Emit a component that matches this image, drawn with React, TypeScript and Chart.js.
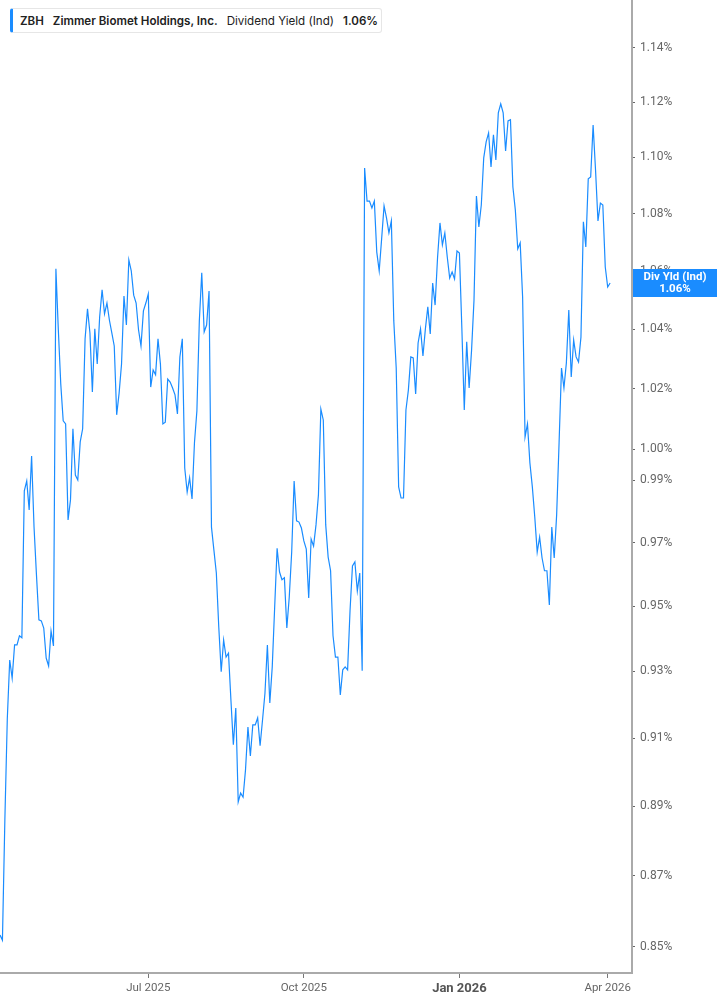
import React, { useEffect, useRef } from 'react';
import { Chart, registerables } from 'chart.js';

Chart.register(...registerables);

// Dividend yield (%) per trading day, Apr 2 2025 -> Apr 2 2026
const yieldAprJun = [
  0.8533, 0.8519, 0.886, 0.9157, 0.9335, 0.928, 0.9381, 0.9381, 0.9409, 0.9403,
  0.9865, 0.9897, 0.9804, 0.9978, 0.9749, 0.9598, 0.9458, 0.9455, 0.9433, 0.9341,
  0.9317, 0.9424, 0.9378, 1.0607, 1.0397, 1.0215, 1.0093, 1.0083, 0.9772, 0.9836,
  1.0067, 0.9916, 0.99, 1.0024, 1.0067, 1.0367, 1.0469, 1.0387, 1.0189, 1.0401,
  1.0282, 1.0442, 1.0534, 1.0452, 1.0489, 1.0431, 1.0387, 1.0343, 1.0113, 1.0185,
  1.0282, 1.0513, 1.0414, 1.0638, 1.06, 1.0516, 1.0489, 1.0397, 1.0343, 1.0462,
  1.0489,
];
const yieldJulSep = [
  1.052, 1.0205, 1.0262, 1.0246, 1.0367, 1.0282, 1.0083, 1.0089, 1.0232, 1.0222,
  1.0202, 1.0179, 1.0116, 1.0306, 1.0367, 0.9939, 0.9861, 0.9907, 0.9839, 1.0021,
  1.0126, 1.0428, 1.0593, 1.0391, 1.0414, 1.053, 0.9749, 0.9676, 0.9604, 0.9436,
  0.9299, 0.9396, 0.9344, 0.9356, 0.9214, 0.908, 0.919, 0.8912, 0.8938, 0.8926,
  0.9006, 0.9133, 0.9047, 0.9139, 0.9139, 0.916, 0.9077, 0.9154, 0.9234, 0.9381,
  0.9205, 0.9314, 0.9498, 0.9682, 0.9607, 0.9583, 0.9589, 0.9433, 0.9529, 0.967,
  0.9897, 0.9769, 0.9765, 0.9746,
];
const yieldOctDec = [
  0.9705, 0.9679, 0.9526, 0.9711, 0.9689, 0.9756, 0.9852, 1.0132, 1.0096, 0.9756,
  0.9654, 0.9611, 0.9409, 0.9344, 0.9344, 0.9229, 0.9305, 0.9314, 0.9305, 0.9486,
  0.9626, 0.9639, 0.9548, 0.9604, 0.9302, 1.0962, 1.0844, 1.0844, 1.082, 1.0844,
  1.0665, 1.06, 1.0711, 1.0827, 1.0785, 1.0732, 1.0774, 1.0428, 1.0269, 0.9878,
  0.9842, 0.9842, 1.0129, 1.0195, 1.0306, 1.0303, 1.0182, 1.0353, 1.0401, 1.0309,
  1.0401, 1.0476, 1.0384, 1.0558, 1.0482, 1.0645, 1.0767, 1.069, 1.0732, 1.0648,
  1.0575, 1.0596, 1.0572, 1.0669,
];
const yieldJanApr = [
  1.0662, 1.0404, 1.0129, 1.0357, 1.0202, 1.0329, 1.0499, 1.0862, 1.0753, 1.083,
  1.0998, 1.1056, 1.1088, 1.0966, 1.1081, 1.0991, 1.1161, 1.1194, 1.1161, 1.1023,
  1.1132, 1.1136, 1.0894, 1.0813, 1.0676, 1.0697, 1.051, 1.004, 1.0083, 0.9955,
  0.9878, 0.9781, 0.967, 0.9717, 0.9651, 0.9611, 0.9611, 0.9504, 0.9749, 0.9651,
  0.9788, 1.0021, 1.0269, 1.0202, 1.0286, 1.0465, 1.0239, 1.0363, 1.0306, 1.0289,
  1.0373, 1.0771, 1.0683, 1.0923, 1.093, 1.1117, 1.0955, 1.0774, 1.0837, 1.083,
  1.0613, 1.0544, 1.0558,
];

const yieldValues = [...yieldAprJun, ...yieldJulSep, ...yieldOctDec, ...yieldJanApr];

const yTickValues = [1.14, 1.12, 1.1, 1.08, 1.06, 1.04, 1.02, 1.0, 0.99, 0.97, 0.95, 0.93, 0.91, 0.89, 0.87, 0.85];

// market holidays, skipped in the date axis
const holidays = [
  '2025-04-18', '2025-05-26', '2025-06-19', '2025-07-04', '2025-09-01', '2025-11-27',
  '2025-12-25', '2026-01-01', '2026-01-19', '2026-02-16', '2026-04-03',
];
const monthNames = ['Jan', 'Feb', 'Mar', 'Apr', 'May', 'Jun', 'Jul', 'Aug', 'Sep', 'Oct', 'Nov', 'Dec'];
const quarterMonths = [0, 3, 6, 9];

const BLUE = '#1a8cff';
const EMPTY_DAYS = 9; // room on the right of the last point

function tradingDays(start: string, count: number): string[] {
  const out: string[] = [];
  const d = new Date(start + 'T00:00:00Z');
  while (out.length < count) {
    const s = d.toISOString().slice(0, 10);
    const wd = d.getUTCDay();
    if (wd !== 0 && wd !== 6 && !holidays.includes(s)) out.push(s);
    d.setUTCDate(d.getUTCDate() + 1);
  }
  return out;
}

const dates = tradingDays('2025-04-02', yieldValues.length + EMPTY_DAYS);
const lastValue = yieldValues[yieldValues.length - 1];

const monthLabel = (i: number) => {
  const [y, m] = dates[i].split('-');
  return monthNames[Number(m) - 1] + ' ' + y;
};

const lastValueTag = {
  id: 'lastValueTag',
  afterDraw(chart: any) {
    const { ctx, chartArea, scales } = chart;
    const y = Math.round(scales.y.getPixelForValue(lastValue));
    const x0 = chartArea.right + 1;
    const cx = (x0 + chart.width) / 2;
    ctx.save();
    ctx.fillStyle = BLUE;
    ctx.fillRect(x0, y - 14, chart.width - x0, 28);
    ctx.fillStyle = '#fff';
    ctx.font = 'bold 11.5px Roboto';
    ctx.textAlign = 'center';
    ctx.textBaseline = 'middle';
    ctx.fillText('Div Yld (Ind)', cx, y - 6);
    ctx.fillText(lastValue.toFixed(2) + '%', cx, y + 6);
    ctx.restore();
  },
};

const App: React.FC = () => {
  const canvasRef = useRef<HTMLCanvasElement | null>(null);

  useEffect(() => {
    if (!canvasRef.current) return;
    Chart.defaults.font.family = 'Roboto';

    const chart = new Chart(canvasRef.current, {
      type: 'line',
      data: {
        labels: dates,
        datasets: [
          {
            label: 'Dividend Yield (Ind)',
            data: yieldValues,
            borderColor: BLUE,
            borderWidth: 1.2,
            pointRadius: 0,
            tension: 0,
            fill: false,
          },
        ],
      },
      options: {
        responsive: false,
        animation: false,
        layout: { padding: 0 },
        plugins: { legend: { display: false }, tooltip: { enabled: false } },
        scales: {
          x: {
            type: 'category',
            offset: false,
            afterBuildTicks: (scale: any) => {
              const ticks: { value: number }[] = [];
              for (let i = 1; i < dates.length; i++) {
                const m = Number(dates[i].slice(5, 7)) - 1;
                const pm = Number(dates[i - 1].slice(5, 7)) - 1;
                if (m !== pm && quarterMonths.includes(m)) ticks.push({ value: i });
              }
              scale.ticks = ticks;
            },
            afterFit: (scale: any) => {
              scale.height = 32;
              scale.paddingLeft = 0;
              scale.paddingRight = 0;
            },
            grid: { drawOnChartArea: false, drawTicks: true, tickLength: 5, color: '#777' },
            border: { display: true, color: '#aaa', width: 2 },
            ticks: {
              autoSkip: false,
              maxRotation: 0,
              padding: 3,
              color: (ctx: any) => (ctx.tick && monthLabel(ctx.tick.value).startsWith('Jan') ? '#555' : '#666'),
              font: (ctx: any) =>
                ctx.tick && monthLabel(ctx.tick.value).startsWith('Jan')
                  ? { size: 13, weight: 'bold' }
                  : { size: 11.5 },
              callback: (value: any) => monthLabel(Number(value)),
            },
          },
          y: {
            type: 'logarithmic',
            position: 'right',
            bounds: 'data',
            min: 0.8428,
            max: 1.158,
            afterBuildTicks: (scale: any) => {
              scale.ticks = yTickValues.map((v) => ({ value: v }));
            },
            afterFit: (scale: any) => {
              scale.width = 85;
              scale.paddingTop = 0;
              scale.paddingBottom = 0;
            },
            grid: { drawOnChartArea: false, drawTicks: true, tickLength: 3, color: '#666' },
            border: { display: true, color: '#aaa', width: 2 },
            ticks: {
              autoSkip: false,
              padding: 5,
              color: '#666',
              font: { size: 12 },
              callback: (value: any) => Number(value).toFixed(2) + '%',
            },
          },
        },
      } as any,
      plugins: [lastValueTag],
    });

    return () => chart.destroy();
  }, []);

  return (
    <div style={{ position: 'absolute', left: 0, top: 0, width: 717, height: 1005, background: '#fff' }}>
      <canvas ref={canvasRef} width={717} height={1005} style={{ display: 'block' }} />
      <div
        style={{
          position: 'absolute',
          left: 10,
          top: 8,
          width: 372,
          height: 25,
          boxSizing: 'border-box',
          border: '1px solid #e6e6e6',
          borderLeft: '3px solid ' + BLUE,
          borderRadius: 3,
          background: '#fff',
          display: 'flex',
          alignItems: 'center',
          paddingLeft: 7,
          fontFamily: 'Inter',
          fontSize: 11.6,
          color: '#222',
          whiteSpace: 'nowrap',
        }}
      >
        <span style={{ fontWeight: 600 }}>ZBH</span>
        <span style={{ fontWeight: 600, marginLeft: 9 }}>Zimmer Biomet Holdings, Inc.</span>
        <span style={{ marginLeft: 9 }}>Dividend Yield (Ind)</span>
        <span style={{ fontWeight: 600, marginLeft: 9 }}>{lastValue.toFixed(2)}%</span>
      </div>
    </div>
  );
};

export default App;
